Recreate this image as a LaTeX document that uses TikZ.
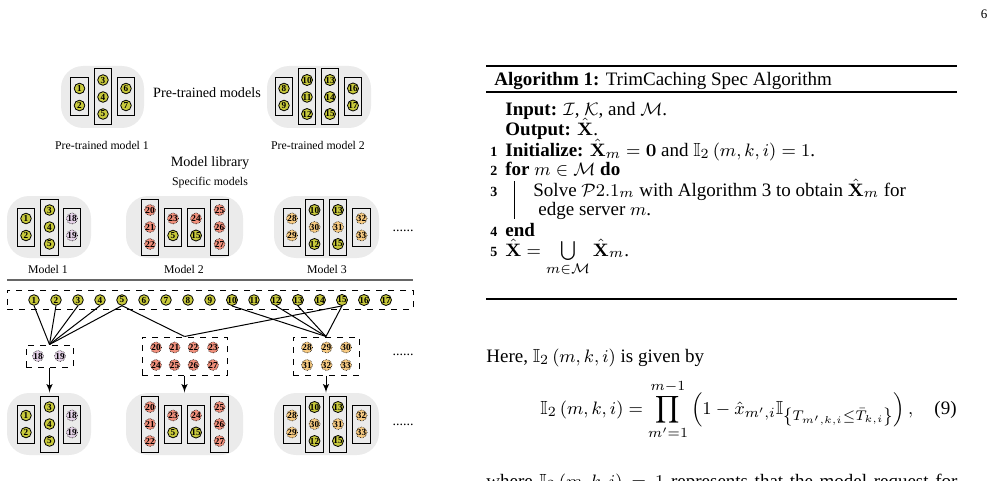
\documentclass[tikz,border=0pt]{standalone}
\usepackage{amsmath}
\usepackage{amssymb}
\usepackage[no-math]{fontspec}
\setmainfont{Liberation Serif}
\usetikzlibrary{arrows,positioning,calc}

\definecolor{oldcol}{HTML}{C8C93C}
\definecolor{pinkcol}{HTML}{E6D3E9}
\definecolor{redcol}{HTML}{F1907C}
\definecolor{orangecol}{HTML}{F8CB82}
\definecolor{bgcol}{HTML}{EBEBEB}

% one row of three specific models: #1 name prefix, #2 centre line
\newcommand{\specrow}[2]{%
  \node[modelbg, minimum width=42pt] (#1m1) at (49,#2) {};
  \node[modelbg, minimum width=58.5pt] (#1m2) at (184.5,#2) {};
  \node[modelbg, minimum width=52.5pt] (#1m3) at (326.5,#2) {};
  \foreach \x/\c [count=\k] in {26/colA,49.5/colB,72/colA,150/colB,173/colA,196/colA,
      219.5/colB,292/colA,314.5/colB,338/colB,361.5/colA}
    \node[\c] (#1c\k) at (\x,#2) {};
  \foreach \m/\n/\x/\dy/\s in {1/1/26/-8.5/oldp, 1/2/26/8.5/oldp, 1/3/49.5/-17/oldp,
      1/4/49.5/0/oldp, 1/5/49.5/17/oldp, 1/18/72/-8.5/pinkp, 1/19/72/8.5/pinkp,
      2/20/150/-17/redp, 2/21/150/0/redp, 2/22/150/17/redp, 2/23/173/-8.5/redp,
      2/5/173/8.5/oldp, 2/24/196/-8.5/redp, 2/15/196/8.5/oldp, 2/25/219.5/-17/redp,
      2/26/219.5/0/redp, 2/27/219.5/17/redp,
      3/28/292/-8.5/orangep, 3/29/292/8.5/orangep, 3/10/314.5/-17/oldp,
      3/30/314.5/0/orangep, 3/12/314.5/17/oldp, 3/13/338/-17/oldp, 3/31/338/0/orangep,
      3/15/338/17/oldp, 3/32/361.5/-8.5/orangep, 3/33/361.5/8.5/orangep}
    \node[\s] (#1m\m-\n) at (\x,#2+\dy) {\n};
}

\begin{document}
\begin{tikzpicture}[x=0.5pt, y=-0.5pt,
    par/.style={circle, draw, line width=0.4pt, inner sep=0pt, minimum size=5.3pt,
      font=\bfseries\fontsize{4.6}{4.6}\selectfont},
    oldp/.style={par, fill=oldcol},
    pinkp/.style={par, fill=pinkcol, line width=0.3pt, dash pattern=on 0.3pt off 0.5pt},
    redp/.style={par, fill=redcol, line width=0.3pt, dash pattern=on 0.3pt off 0.5pt},
    orangep/.style={par, fill=orangecol, line width=0.3pt, dash pattern=on 0.3pt off 0.5pt},
    modelbg/.style={rectangle, fill=bgcol, rounded corners=11pt, minimum height=31pt, inner sep=0pt},
    colA/.style={rectangle, draw, line width=0.5pt, minimum width=8.75pt, minimum height=19pt, inner sep=0pt},
    colB/.style={colA, minimum height=28pt},
    dbox/.style={rectangle, draw, dashed, line width=0.5pt, inner sep=0pt},
    lbl/.style={font=\fontsize{5.9}{7}\selectfont, inner sep=0pt},
    biglbl/.style={font=\fontsize{7.1}{8}\selectfont, inner sep=0pt},
    dots/.style={font=\fontsize{7}{8}\selectfont, inner sep=0pt, anchor=base},
    txt/.style={font=\fontsize{9.5}{11}\selectfont, inner sep=0pt, anchor=base west},
    lnum/.style={font=\bfseries\fontsize{7}{8}\selectfont, inner sep=0pt, anchor=base west}]
  \useasboundingbox (0,0) rectangle (996,481);
  \clip (0,0) rectangle (996,481);

  % pre-trained models
  \node[modelbg, minimum width=41.5pt] (pt1) at (102.5,97) {};
  \node[modelbg, minimum width=52pt] (pt2) at (319,97) {};
  \foreach \x/\c [count=\k] in {79.5/colA,103/colB,126/colA,284/colA,307/colB,330/colB,353/colA}
    \node[\c] (ptc\k) at (\x,97) {};
  \foreach \n/\x/\y in {1/79.5/88.5, 2/79.5/105.5, 3/103/80, 4/103/97, 5/103/114,
      6/126/88.5, 7/126/105.5, 8/284/88.5, 9/284/105.5, 10/307/80, 11/307/97,
      12/307/114, 13/330/80, 14/330/97, 15/330/114, 16/353/88.5, 17/353/105.5}
    \node[oldp] (pt-\n) at (\x,\y) {\n};
  \node[biglbl] (ptmodels) at (207,93) {Pre-trained models};
  \node[lbl] (pt1lbl) at (102,145) {Pre-trained model 1};
  \node[lbl] (pt2lbl) at (318,145) {Pre-trained model 2};
  \node[biglbl] (library) at (210,163) {Model library};
  \node[lbl] (specific) at (210,183) {Specific models};

  % specific models
  \specrow{t}{227}
  \node[lbl] (tlbl1) at (48,269) {Model 1};
  \node[lbl] (tlbl2) at (184,269) {Model 2};
  \node[lbl] (tlbl3) at (327,269) {Model 3};
  \node[dots] (tdots) at (403,231) {......};

  \draw[black!60, line width=1pt] (7,280) -- (413,280);

  % shared parameters and new parameters
  \node[dbox, minimum width=203pt, minimum height=9.5pt] (shared) at (210,299.5) {};
  \foreach \i in {1,...,17}
    \node[oldp] (sh\i) at ({34+22*(\i-1)},300) {\i};
  \node[dbox, minimum width=23.5pt, minimum height=11pt] (new1) at (49.5,356) {};
  \node[dbox, minimum width=42.5pt, minimum height=19pt] (new2) at (184.5,356) {};
  \node[dbox, minimum width=33pt, minimum height=19pt] (new3) at (326,356) {};
  \node[pinkp] (n18) at (38,356) {18};
  \node[pinkp] (n19) at (60,356) {19};
  \foreach \n/\x/\y in {20/156/347.5, 21/174.5/347.5, 22/193.5/347.5, 23/213/347.5,
      24/156/365, 25/174.5/365, 26/193.5/365, 27/213/365}
    \node[redp] (n\n) at (\x,\y) {\n};
  \foreach \n/\x/\y in {28/307/347.5, 29/326.5/347.5, 30/346/347.5,
      31/307/365, 32/326.5/365, 33/346/365}
    \node[orangep] (n\n) at (\x,\y) {\n};
  \node[dots] (mdots) at (403,355) {......};

  \foreach \i in {1,...,5}
    \draw[line width=0.5pt] (sh\i.south) -- (new1.north);
  \foreach \i in {5,15}
    \draw[line width=0.5pt] (sh\i.south) -- (new2.north);
  \foreach \i in {10,12,13,15}
    \draw[line width=0.5pt] (sh\i.south) -- (new3.north);

  % resulting models
  \specrow{b}{424}
  \node[dots] (bdots) at (403,425) {......};
  \foreach \k in {1,2,3}
    \draw[-latex', line width=0.5pt] (new\k.south) -- (new\k.south |- bm\k.north);

  % algorithm
  \draw[line width=1pt] (486,66) -- (957,66);
  \draw[line width=0.6pt] (486,92) -- (957,92);
  \draw[line width=1pt] (486,299) -- (957,299);
  \node[txt] (algtitle) at (494,86) {\textbf{Algorithm 1:} TrimCaching Spec Algorithm};
  \node[txt] (input) at (505,116) {\textbf{Input:} $\mathcal{I}$, $\mathcal{K}$, and $\mathcal{M}$.};
  \node[txt] (output) at (505,135) {\textbf{Output:} $\hat{\mathbf{X}}$.};
  \node[txt] (l1) at (505,156) {\textbf{Initialize:} $\hat{\mathbf{X}}_m=\mathbf{0}$ and $\mathbb{I}_2\left(m,k,i\right)=1$.};
  \node[txt] (l2) at (505,176) {\textbf{for} $m\in\mathcal{M}$ \textbf{do}};
  \node[txt] (l3) at (533,196) {Solve $\mathcal{P}2.1_m$ with Algorithm 3 to obtain $\hat{\mathbf{X}}_m$ for};
  \node[txt] (l3b) at (538,215) {edge server $m$.};
  \node[txt] (l4) at (505,236) {\textbf{end}};
  \node[txt] (l5) at (505,256) {$\hat{\mathbf{X}}=\bigcup\limits_{m\in\mathcal{M}}\hat{\mathbf{X}}_m$.};
  \foreach \k/\y in {1/156,2/176,3/196,4/236,5/256}
    \node[lnum] (lno\k) at (490,\y) {\k};
  \draw[line width=0.5pt] (514,181) -- (514,219);

  % text below
  \node[txt] (here) at (486,362) {Here, $\mathbb{I}_2\left(m,k,i\right)$ is given by};
  \node[txt] (eq9) at (540,414) {$\displaystyle \mathbb{I}_2\left(m,k,i\right)=\prod_{m'=1}^{m-1}\left(1-\hat{x}_{m',i}\mathbb{I}_{\left\{T_{m',k,i}\le\bar{T}_{k,i}\right\}}\right),$};
  \node[txt, anchor=base east] (eqno) at (957,414) {(9)};
  \node[txt] (where) at (486,487) {\makebox[235.5pt][s]{where $\mathbb{I}_2\left(m,k,i\right)=1$ represents that the model request for}};
  \node[font=\fontsize{6.5}{7}\selectfont, inner sep=0pt] (pgno) at (984,14) {6};
\end{tikzpicture}
\end{document}
